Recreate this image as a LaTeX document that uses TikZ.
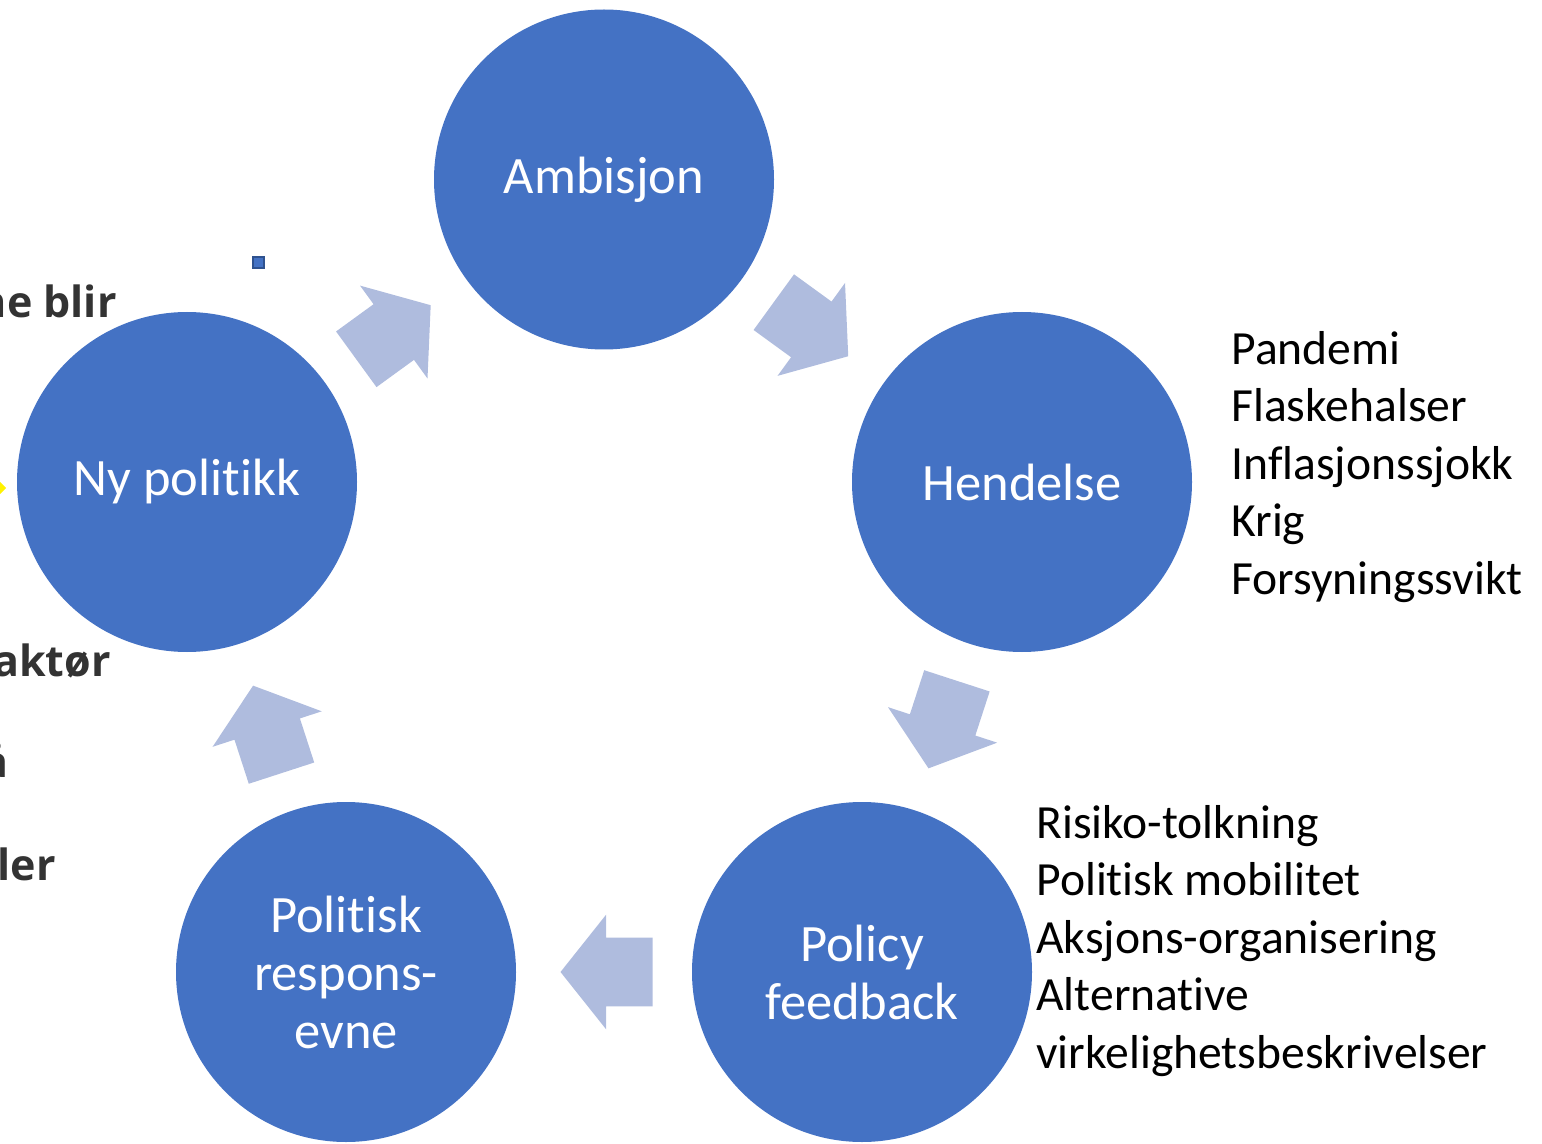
\documentclass[tikz,border=0pt]{standalone}
\usepackage{fontspec}
\setmainfont{Carlito}[Ligatures={NoCommon,NoContextual,NoRare},Contextuals=NoAlternate]
\newfontfamily\sidefont{Open Sans}
\usepackage{tikz}
\usetikzlibrary{positioning,shapes.arrows,calc}
\usepackage{xcolor}
\definecolor{nodeblue}{HTML}{4472C4}
\definecolor{edgeblue}{HTML}{2F528F}
\definecolor{arrowblue}{RGB}{175,188,222}
\definecolor{sidegrey}{HTML}{333333}

\begin{document}
\begin{tikzpicture}[x=0.5pt,y=-0.5pt,node distance=2cm,on grid,
		stage/.style={circle,fill=nodeblue,draw=none,minimum size=170pt,inner sep=0pt,text=white,align=center,font=\fontsize{26.25}{29}\selectfont},
		notes/.style={align=left,inner sep=0pt,text=black,font=\fontsize{23.8}{28.75}\selectfont},
		cut/.style={inner sep=0pt,text=sidegrey,font=\sidefont\bfseries\fontsize{21.5}{26}\selectfont}]
			\useasboundingbox (0,0) rectangle (1542,1144);
			  \node[stage]          (amb) at (604,179.5)   {Ambisjon};
			  \node[stage]          (hend) [below right =151.25pt and 209pt of amb]    {Hendelse};
			  \node[stage]          (pol) [below left =245pt and 80pt of hend]    {Policy\\feedback};
			  \node[stage]          (resp) [left =258pt of pol]    {Politisk\\respons-\\evne};
			  \node[stage]          (ny) [above left =245pt and 79.5pt of resp]    {Ny politikk};

			  \node[notes]          (hendnotes) [right =104.5pt of hend, anchor=west, yshift=7.5pt]
			     {Pandemi\\Flaskehalser\\Inflasjonssjokk\\Krig\\Forsyningssvikt};
			  \node[notes]          (polnotes) [right =87pt of pol, anchor=west, yshift=15.5pt]
			     {Risiko-tolkning\\Politisk mobilitet\\Aksjons-organisering\\Alternative\\virkelighetsbeskrivelser};

			  % cut-off text at the left edge
			  \node[cut, anchor=base east] (cut1) at (117,318) {ne blir};
			  \node[cut, anchor=base east] (cut2) at (111,676) {aktør};
			  \node[cut, anchor=base east] (cut3) at (9,777)   {å};
			  \node[cut, anchor=base east] (cut4) at (56,880)  {ler};
			  \fill[yellow] (0,482) -- (6,488) -- (0,494) -- cycle;
			  \draw[fill=nodeblue,draw=edgeblue,line width=1pt] (252.5,257.5) rectangle (263.5,268.5);

			\tikzset{cyclearrow/.style={single arrow,fill=arrowblue,draw=none,inner xsep=0pt,inner ysep=17pt,minimum height=46pt,single arrow head extend=11.5pt,single arrow tip angle=103,anchor=tip}}
			\node[cyclearrow, rotate=36]   (a1) at ($(ny)!0.5!(amb)!22pt!(amb)$)    {};
			\node[cyclearrow, rotate=-36]  (a2) at ($(amb)!0.5!(hend)!22pt!(hend)$) {};
			\node[cyclearrow, rotate=-108] (a3) at ($(hend)!0.5!(pol)!22pt!(pol)$)  {};
			\node[cyclearrow, rotate=180]  (a4) at ($(pol)!0.5!(resp)!22pt!(resp)$) {};
			\node[cyclearrow, rotate=108]  (a5) at ($(resp)!0.5!(ny)!22pt!(ny)$)    {};
		\end{tikzpicture}
\end{document}
